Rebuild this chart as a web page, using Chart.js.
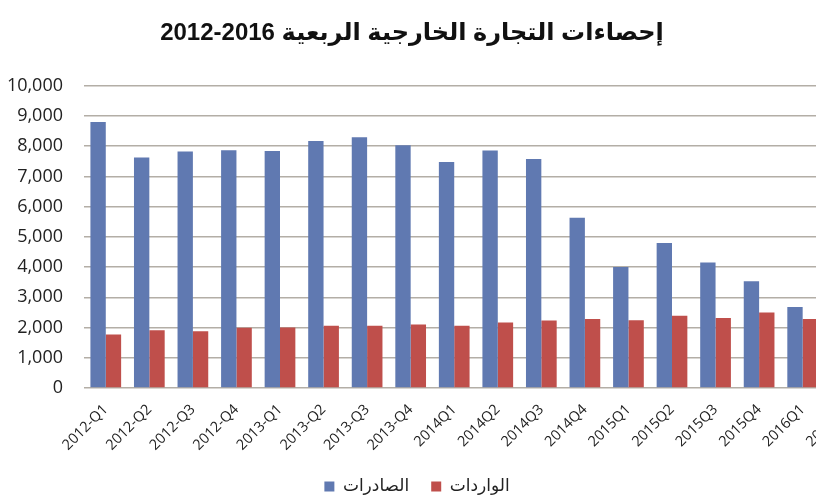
<!DOCTYPE html>
<html lang="ar">
<head>
<meta charset="utf-8">
<title>إحصاءات التجارة الخارجية الربعية</title>
<script src="https://cdn.jsdelivr.net/npm/chart.js@4.4.1/dist/chart.umd.min.js"></script>
<style>
  html, body { margin: 0; padding: 0; background: #fff; overflow: hidden; }
  #wrap { width: 816px; height: 500px; overflow: hidden; position: relative; }
  #tradeChart { position: absolute; left: 0; top: 0; }
</style>
</head>
<body>
<div id="wrap"><canvas id="tradeChart" width="868" height="500"></canvas></div>
<script>
// Quarterly foreign trade 2012-2016
const quarters = [
  "2012-Q1", "2012-Q2", "2012-Q3", "2012-Q4",
  "2013-Q1", "2013-Q2", "2013-Q3", "2013-Q4",
  "2014Q1", "2014Q2", "2014Q3", "2014Q4",
  "2015Q1", "2015Q2", "2015Q3", "2015Q4",
  "2016Q1", "2016Q2"
];
// exports (blue) - last quarter is cut off in the picture
const exportsData = [
  8800, 7630, 7830, 7870,
  7840, 8170, 8300, 8030,
  7480, 7860, 7580, 5630,
  4000, 4800, 4150, 3530,
  2680, null
];
// imports (red)
const importsData = [
  1770, 1910, 1880, 1990,
  2000, 2060, 2060, 2100,
  2060, 2170, 2230, 2280,
  2240, 2390, 2320, 2500,
  2280, null
];
const yTicks = [0, 1000, 2000, 3000, 4000, 5000, 6000, 7000, 8000, 9000, 10000];

// years first: in the LTR canvas they stay as "2012-2016" at the left end,
// the Arabic words follow on the right
const titleText = "2012-2016 إحصاءات التجارة الخارجية الربعية";
const seriesNames = ["الصادرات", "الواردات"];

// the picture is cropped on the right, so title and legend sit left of canvas centre
const shiftBoxes = {
  id: "shiftBoxes",
  afterLayout(chart) {
    const moves = [[chart.titleBlock, -22], [chart.legend, -17]];
    moves.forEach(([box, dx]) => {
      if (!box) return;
      box.left += dx;
      box.right += dx;
    });
  },
};

function initTradeChart() {
  const ctx = document.getElementById("tradeChart");
  if (!ctx) return;

  new Chart(ctx, {
    type: "bar",
    data: {
      labels: quarters,
      datasets: [
        {
          label: seriesNames[0],
          data: exportsData,
          backgroundColor: "#6079b1",
          borderWidth: 0,
        },
        {
          label: seriesNames[1],
          data: importsData,
          backgroundColor: "#bf4f4b",
          borderWidth: 0,
        },
      ],
    },
    options: {
      responsive: false,
      animation: false,
      layout: { padding: { top: 0, right: 0, bottom: -5, left: 0 } },
      datasets: {
        bar: { categoryPercentage: 0.705, barPercentage: 1 },
      },
      scales: {
        x: {
          grid: { display: false },
          border: { display: false },
          ticks: {
            autoSkip: false,
            minRotation: 45,
            maxRotation: 45,
            padding: 5,
            color: "#222",
            font: { family: "'Open Sans', sans-serif", size: 14.5 },
          },
          afterFit: (scale) => { scale.height = 68; },
        },
        y: {
          min: 0,
          max: 10000,
          border: { display: false },
          grid: { color: "#b3aea6", lineWidth: 1.5, drawTicks: false },
          afterBuildTicks: (scale) => {
            scale.ticks = yTicks.map((v) => ({ value: v }));
          },
          afterFit: (scale) => { scale.width = 84; },
          ticks: {
            padding: 21,
            color: "#222",
            font: { family: "'Open Sans', sans-serif", size: 18 },
            callback: (value) => value.toLocaleString("en-US"),
          },
        },
      },
      plugins: {
        title: {
          display: true,
          text: titleText,
          color: "#111",
          font: { family: "'Liberation Sans', 'DejaVu Sans', sans-serif", size: 24, weight: "bold" },
          padding: { top: 19, bottom: 38 },
        },
        legend: {
          position: "bottom",
          labels: {
            boxWidth: 10,
            boxHeight: 10,
            padding: 22,
            color: "#222",
            font: { family: "'DejaVu Sans', sans-serif", size: 17 },
          },
        },
        tooltip: { enabled: false },
      },
    },
    plugins: [shiftBoxes],
  });
}

document.addEventListener("DOMContentLoaded", () => {
  initTradeChart();
});
</script>
</body>
</html>
